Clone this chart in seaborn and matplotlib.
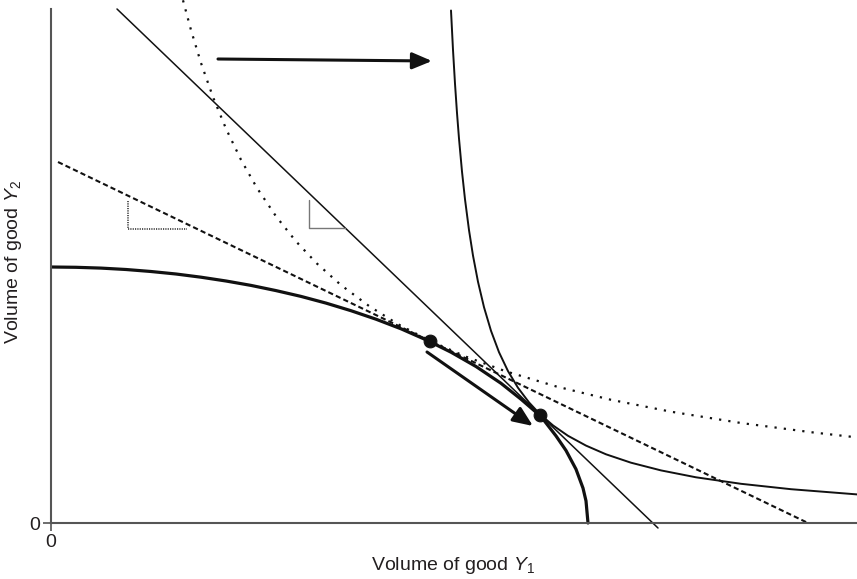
import matplotlib
matplotlib.use("Agg")
import matplotlib.pyplot as plt
import seaborn as sns

# Data (arbitrary volume units)
# production possibility frontier
ppf_y1 = [0, 25, 50, 75, 100, 125, 150, 175, 200, 225, 250, 275, 300, 325, 350, 375,
          400, 425, 450, 470, 490, 505, 515, 525, 532, 535, 537]
ppf_y2 = [256, 255.7, 254.9, 253.5, 251.5, 249.0, 245.8, 242.0, 237.6, 232.4, 226.6,
          219.9, 212.3, 203.8, 194.2, 183.2, 170.8, 156.5, 139.7, 123.8, 106.5, 87.1,
          72.5, 53.8, 34.9, 22.1, 0]

# price lines (straight)
price1_y1 = [7, 757]
price1_y2 = [361, 0]
price2_y1 = [66, 607]
price2_y2 = [514, -5]

# indifference curves
ic1_y1 = [132, 140, 150, 162, 175, 190, 206, 225, 245, 266, 290, 318, 347, 379, 415,
          455, 505, 560, 620, 690, 760, 806]
ic1_y2 = [522.7, 492.9, 460.0, 425.9, 394.3, 363.2, 335.0, 306.7, 281.6, 259.4, 237.9,
          217.0, 198.8, 182.1, 166.3, 151.6, 136.6, 123.2, 111.3, 100.0, 90.8, 85.6]
ic2_y1 = [400, 402, 404, 406, 408, 411, 414, 418, 422, 427, 433, 440, 448, 457, 467,
          478, 489, 502, 517, 535, 555, 580, 610, 645, 690, 740, 806]
ic2_y2 = [512.5, 473.1, 439.3, 410.0, 384.4, 351.4, 323.7, 292.9, 267.4, 241.2, 215.8,
          192.2, 170.8, 151.9, 135.2, 120.6, 108.8, 97.6, 87.2, 77.4, 68.7, 60.3, 52.6,
          45.7, 39.2, 33.8, 28.6]

# points of tangency
eq_y1 = [379, 489]
eq_y2 = [182, 108]

# slope triangles
tri1_y1 = [77, 77, 136]
tri1_y2 = [322, 294, 294]
tri2_y1 = [258, 258, 294]
tri2_y2 = [323, 295, 295]

# arrows (start, end)
arrow_shift = [(167, 464), (381, 462)]
arrow_move = [(376, 171), (482, 97)]

sns.set_theme(style="white")
plt.rcParams["font.family"] = ["Liberation Sans", "DejaVu Sans"]
plt.rcParams["mathtext.fontset"] = "custom"
plt.rcParams["mathtext.rm"] = "Liberation Sans"
plt.rcParams["mathtext.it"] = "Liberation Sans:italic"

fig = plt.figure(figsize=(8.57, 5.79), dpi=100)
ax = fig.add_axes([51 / 857, 39 / 579, 806 / 857, 540 / 579])

ink = "#111111"

sns.lineplot(x=ppf_y1, y=ppf_y2, ax=ax, color=ink, lw=2.3, sort=False, estimator=None)
sns.lineplot(x=price1_y1, y=price1_y2, ax=ax, color=ink, lw=1.5,
             linestyle=(0, (2.5, 1.5)), sort=False, estimator=None)
sns.lineplot(x=price2_y1, y=price2_y2, ax=ax, color=ink, lw=1.1, sort=False, estimator=None)
sns.lineplot(x=ic1_y1, y=ic1_y2, ax=ax, color=ink, lw=1.6,
             linestyle=(0, (1, 3.2)), sort=False, estimator=None)
sns.lineplot(x=ic2_y1, y=ic2_y2, ax=ax, color=ink, lw=1.4, sort=False, estimator=None)

sns.lineplot(x=tri1_y1, y=tri1_y2, ax=ax, color="#555555", lw=1.4,
             linestyle=(0, (0.6, 0.6)), sort=False, estimator=None)
sns.lineplot(x=tri2_y1, y=tri2_y2, ax=ax, color="#777777", lw=1.0, sort=False, estimator=None)

sns.scatterplot(x=eq_y1, y=eq_y2, ax=ax, color=ink, s=85, edgecolor=ink, zorder=5)

for (x0, y0), (x1, y1) in [arrow_shift, arrow_move]:
    ax.annotate("", xy=(x1, y1), xytext=(x0, y0),
                arrowprops=dict(arrowstyle="-|>,head_length=1.0,head_width=0.42",
                                lw=2.2, color=ink, shrinkA=0, shrinkB=0))

ax.set_xlim(0, 806)
ax.set_ylim(-17, 523)

for side in ["top", "right"]:
    ax.spines[side].set_visible(False)
ax.spines["bottom"].set_position(("data", 0))
ax.spines["left"].set_bounds(0, 514)
for side in ["left", "bottom"]:
    ax.spines[side].set_color("#555555")
    ax.spines[side].set_linewidth(1.5)

ax.set_xticks([0])
ax.set_yticks([0])
ax.set_xticklabels(["0"])
ax.set_yticklabels(["0"])
ax.tick_params(axis="both", direction="out", length=5.8, width=1.2, color="#555555",
               labelsize=14, labelcolor="#231f20", pad=2, bottom=True, left=True)

ax.set_xlabel("Volume of good $Y_1$", fontsize=14, color="#231f20", va="top")
ax.xaxis.set_label_coords(0.499, -0.028)
ax.set_ylabel("Volume of good $Y_2$", fontsize=14, color="#231f20", va="center")
ax.yaxis.set_label_coords(-0.046, 0.515)

fig.savefig("out.png", dpi=100)
